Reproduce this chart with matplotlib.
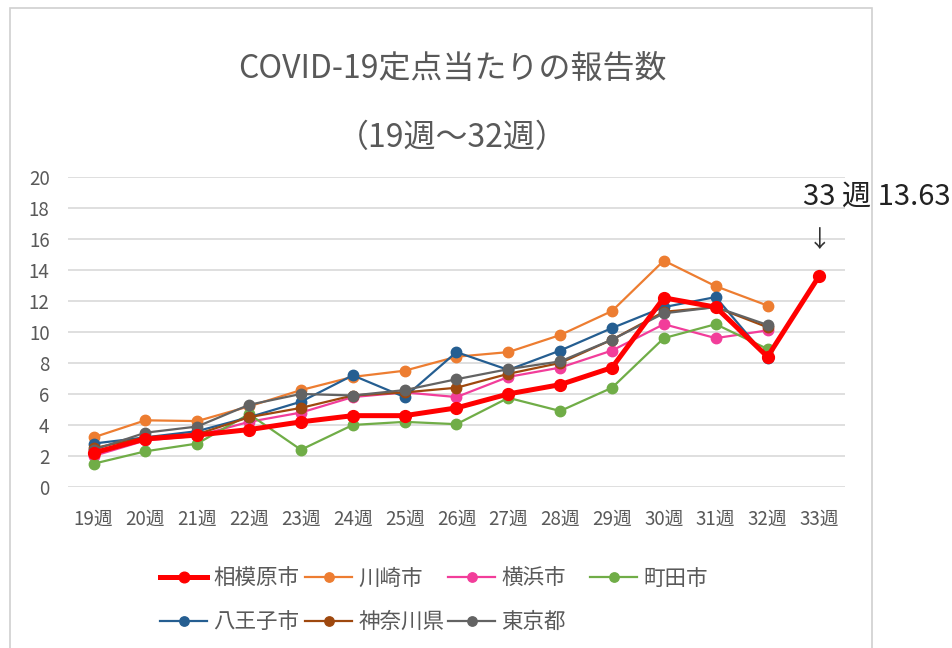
import matplotlib
matplotlib.use("Agg")
import matplotlib.pyplot as plt
from matplotlib.patches import Rectangle

plt.rcParams['font.family'] = ['Noto Sans CJK JP', 'DejaVu Sans']

# DATA
weeks = ['19週', '20週', '21週', '22週', '23週', '24週', '25週', '26週',
         '27週', '28週', '29週', '30週', '31週', '32週', '33週']

sagamihara = [2.2, 3.1, 3.35, 3.7, 4.2, 4.6, 4.6, 5.1, 6.0, 6.6, 7.7, 12.2, 11.6, 8.4, 13.63]
kawasaki = [3.2, 4.3, 4.25, 5.2, 6.25, 7.1, 7.5, 8.4, 8.7, 9.8, 11.35, 14.6, 12.95, 11.7]
yokohama = [2.0, 3.0, 3.3, 4.2, 4.8, 5.8, 6.1, 5.8, 7.1, 7.7, 8.8, 10.5, 9.6, 10.1]
machida = [1.5, 2.3, 2.8, 4.7, 2.4, 4.0, 4.2, 4.05, 5.75, 4.9, 6.4, 9.6, 10.5, 8.9]
hachioji = [2.8, 3.2, 3.6, 4.5, 5.5, 7.2, 5.8, 8.7, 7.55, 8.8, 10.25, 11.6, 12.25, 8.3]
kanagawa = [2.5, 3.2, 3.4, 4.5, 5.1, 5.9, 6.1, 6.4, 7.3, 8.0, 9.5, 11.3, 11.6, 10.3]
tokyo = [2.4, 3.5, 3.9, 5.3, 6.0, 5.9, 6.25, 6.95, 7.6, 8.1, 9.5, 11.2, 11.6, 10.45]

series = [
    ('相模原市', sagamihara, '#FF0000'),
    ('川崎市', kawasaki, '#ED7D31'),
    ('横浜市', yokohama, '#F23D9A'),
    ('町田市', machida, '#70AD47'),
    ('八王子市', hachioji, '#255E91'),
    ('神奈川県', kanagawa, '#9E480E'),
    ('東京都', tokyo, '#636363'),
]

fig = plt.figure(figsize=(9.53, 6.48), dpi=100)
ax = fig.add_axes([0.071, 0.2485, 0.816, 0.4785])

x = list(range(len(weeks)))
handles = {}
for name, vals, col in series:
    if name == '相模原市':
        h, = ax.plot(x[:len(vals)], vals, color=col, lw=3.6, marker='o', ms=8.5, zorder=3)
    else:
        h, = ax.plot(x[:len(vals)], vals, color=col, lw=1.6, marker='o', ms=7.5, zorder=2)
    handles[name] = h

ax.set_xlim(-0.5, len(weeks) - 0.5)
ax.set_ylim(0, 20)
ax.set_yticks(range(0, 21, 2))
ax.set_xticks(x)
ax.set_xticklabels(weeks)
ax.grid(axis='y', color='#D9D9D9', lw=1.2)
ax.set_axisbelow(True)
for s in ax.spines.values():
    s.set_visible(False)
ax.tick_params(length=0, colors='#595959', labelsize=13.5)
ax.tick_params(axis='y', pad=13)
ax.tick_params(axis='x', pad=16)

# title
fig.text(0.475, 0.893, 'COVID-19定点当たりの報告数', ha='center', va='center',
         fontsize=23, color='#595959')
fig.text(0.475, 0.787, '（19週〜32週）', ha='center', va='center',
         fontsize=23, color='#595959')

# annotation for week 33
ax.text(15.1, 18.7, '33 週 13.63', ha='center', va='center', fontsize=21,
        color='#222222', clip_on=False)
ax.text(14.0, 15.9, '↓', ha='center', va='center', fontsize=17,
        color='#333333', clip_on=False)

# legend: Excel-style equal-width columns, one legend per column
columns = [['相模原市', '八王子市'], ['川崎市', '神奈川県'], ['横浜市', '東京都'], ['町田市']]
col_x = [0.168, 0.320, 0.470, 0.619]
for names, cx in zip(columns, col_x):
    fig.legend([handles[k] for k in names], names, ncol=1, loc='upper left',
               bbox_to_anchor=(cx, 0.1235), borderaxespad=0, borderpad=0,
               frameon=False, fontsize=15.5,
               labelcolor='#595959', handlelength=2.2, handletextpad=0.28,
               labelspacing=0.98, markerscale=0.9)

# chart area border
fig.patches.append(Rectangle((0.011, -0.01), 0.904, 0.998, transform=fig.transFigure,
                             fill=False, edgecolor='#D0D0D0', lw=1.2))

fig.savefig('out.png', dpi=100)
